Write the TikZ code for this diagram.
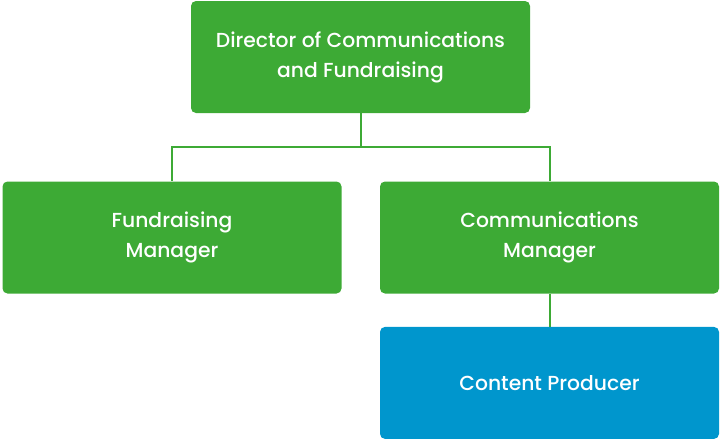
\documentclass[tikz,border=0pt]{standalone}
\usepackage{fontspec}
\setmainfont{Poppins Medium}
\usetikzlibrary{positioning}
\definecolor{cgreen}{HTML}{3DAA35}
\definecolor{cblue}{HTML}{0096CD}
\tikzset{
  role/.style={rectangle, rounded corners=5pt, fill=cgreen, text=white,
               minimum width=339pt, minimum height=112pt, align=center,
               font=\fontsize{20.3}{30}\selectfont},
  staff/.style={role, fill=cblue},
  link/.style={draw=cgreen, line width=2pt}
}
\begin{document}
\begin{tikzpicture}[x=1pt,y=-1pt]
\useasboundingbox (0,0) rectangle (720,439);
\node[role] (dir) at (360.5,57) {Director of Communications\\and Fundraising};
\node[role] (fund) at (172,237.5) {Fundraising\\Manager};
\node[role] (comm) at (549.5,237.5) {Communications\\Manager};
\node[staff, below=33pt of comm] (prod) {Content Producer};

\draw[link] (dir.south) -- ++(0,34) -| (fund.north);
\draw[link] (dir.south) -- ++(0,34) -| (comm.north);
\draw[link] (comm.south) -- (prod.north);
\end{tikzpicture}
\end{document}
